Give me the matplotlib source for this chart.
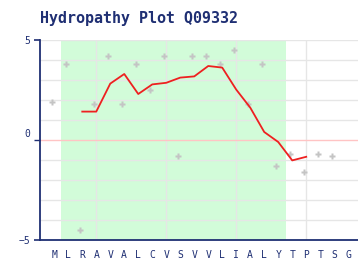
import matplotlib
matplotlib.use("Agg")
import matplotlib.pyplot as plt
import matplotlib.transforms as mtransforms

# 序列与Kyte-Doolittle疏水性值
residues = list("MLRAVALCVSVVLIALYTPTSG")
kd_values = [1.9, 3.8, -4.5, 1.8, 4.2, 1.8, 3.8, 2.5, 4.2, -0.8, 4.2,
             4.2, 3.8, 4.5, 1.8, 3.8, -1.3, -0.7, -1.6, -0.7, -0.8]

# 滑动窗口平均 (从第3个残基开始)
avg_start = 2
avg_values = [1.42, 1.42, 2.82, 3.30, 2.30, 2.78, 2.86, 3.12, 3.18, 3.70,
              3.62, 2.52, 1.62, 0.40, -0.10, -1.02, -0.84]

# 跨膜区
tm_region = (0.48, 16.55)

navy = "#1f2f73"
mono = "DejaVu Sans Mono"

fig = plt.figure(figsize=(3.58, 2.60), dpi=100)
ax = fig.add_axes([40 / 358, 20 / 260, 318 / 358, 200 / 260])

ax.axvspan(tm_region[0], tm_region[1], color="#d2fcd9", zorder=0, lw=0)

for y in range(-4, 6):
    if y != 0:
        ax.axhline(y, color="#e6e6e6", lw=1.0, zorder=1)
for x in [3, 8, 13, 18]:
    ax.axvline(x, color="#e6e6e6", lw=1.0, zorder=1)
ax.axhline(0, color="#ffc4c4", lw=1.0, zorder=1)

ax.plot([i - 0.13 for i in range(len(kd_values))], kd_values, ls="none",
        marker="P", ms=4.5, color="#c4c4c4", mec="none", zorder=2)

ax.plot(range(avg_start, avg_start + len(avg_values)), avg_values,
        color="#ee2020", lw=1.3, zorder=3)

ax.set_xlim(-1.02, 21.7)
ax.set_ylim(-5, 5)

ax.set_xticks(range(len(residues)))
ax.set_xticklabels(residues, fontsize=7, family=mono, color=navy)
ax.tick_params(axis="x", length=0, pad=7)

ax.set_yticks([-5, 0, 5])
ax.set_yticklabels(["\u22125", "0", "5"], fontsize=7, family=mono, color=navy)
ax.tick_params(axis="y", length=4, width=1.2, color=navy, pad=3)
ticks = ax.yaxis.get_major_ticks()
ticks[1].tick1line.set_color("#ffc4c4")
ticks[1].tick1line.set_markeredgewidth(1.0)
off = mtransforms.ScaledTranslation(0, 5 / 72, fig.dpi_scale_trans)
for lbl in ax.get_yticklabels():
    if lbl.get_text() == "0":
        lbl.set_transform(lbl.get_transform() + off)

for side in ["top", "right"]:
    ax.spines[side].set_visible(False)
for side in ["left", "bottom"]:
    ax.spines[side].set_color(navy)
    ax.spines[side].set_linewidth(1.3)

fig.text(40 / 358, 1 - 18 / 260, "Hydropathy Plot Q09332", family=mono,
         fontweight="bold", fontsize=10.8, color=navy, va="center", ha="left")

fig.savefig("out.png", dpi=100)
